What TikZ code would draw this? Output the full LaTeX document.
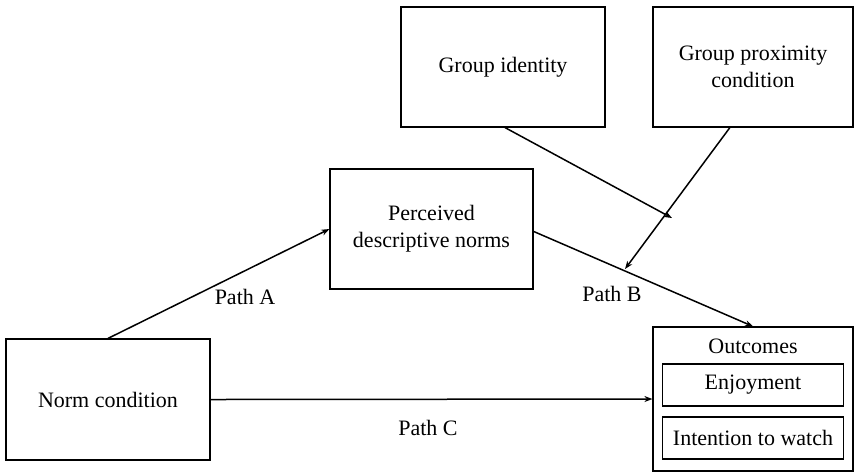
\documentclass[tikz,border=0pt]{standalone}
\usepackage{fontspec}
\setmainfont{Liberation Serif}
\usetikzlibrary{arrows.meta,calc}
\begin{document}
\begin{tikzpicture}[x=0.5pt,y=-0.5pt,
  box/.style={draw,line width=0.6pt,inner sep=0pt,align=center,font=\fontsize{11}{13.5}\selectfont},
  conn/.style={line width=0.75pt,-{Stealth[length=4pt,width=3pt]}},
  lbl/.style={font=\fontsize{11}{13.5}\selectfont}]
\useasboundingbox (0,0) rectangle (854,473);
\node[box,minimum width=102pt,minimum height=60.5pt] (norm) at (108,399.5) {Norm condition};
\node[box,minimum width=101.5pt,minimum height=60pt] (per) at (431.5,229) {Perceived\\descriptive norms};
\node[box,minimum width=102pt,minimum height=60pt] (gi) at (503,67) {Group identity};
\node[box,minimum width=100pt,minimum height=60pt] (gp) at (753,67) {Group proximity\\condition};
\node[box,minimum width=100pt,minimum height=72pt] (out) at (753,399) {};
\node[lbl] (outl) at (753,346) {Outcomes};
\node[box,minimum width=90.5pt,minimum height=21pt] (enj) at (753,385) {Enjoyment};
\node[box,minimum width=90.5pt,minimum height=21pt] (int) at (753,438) {Intention to watch};
\coordinate (m1) at (672,218);
\coordinate (m2) at (625,269);
\coordinate (gis) at ($(gi.south west)!0.51!(gi.south east)$);
\coordinate (gps) at ($(gp.south west)!0.385!(gp.south east)$);
\coordinate (pe) at ($(per.north east)!0.52!(per.south east)$);
\draw[conn] (norm.north) -- (per.west);
\draw[conn] (pe) -- (out.north);
\draw[conn] (norm.east) -- (out.west);
\draw[conn] (gis) -- (m1);
\draw[conn] (gps) -- (m2);
\node[lbl] (pa) at (245,297) {Path A};
\node[lbl] (pb) at (612,294) {Path B};
\node[lbl] (pc) at (428,428) {Path C};
\end{tikzpicture}
\end{document}
